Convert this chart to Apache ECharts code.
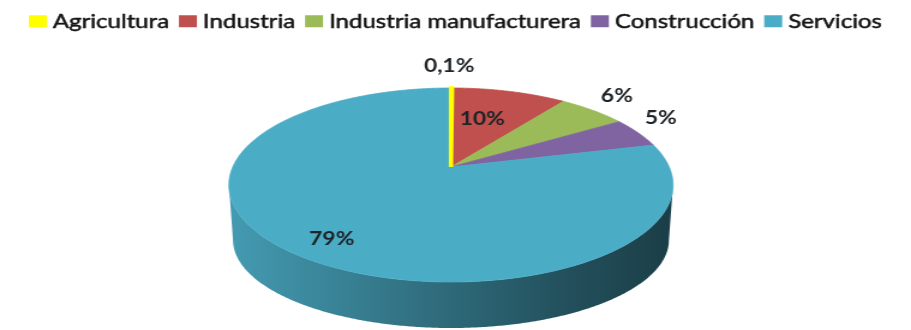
<!DOCTYPE html>
<html>
<head>
<meta charset="utf-8">
<title>Distribución por sector</title>
<script src="https://cdn.jsdelivr.net/npm/echarts@6/dist/echarts.min.js"></script>
<style>
  html, body { margin: 0; padding: 0; background: #ffffff; overflow: hidden; }
  /* the chart is laid out on a narrower canvas and widened horizontally */
  #chart { width: 759px; height: 330px; transform: scaleX(1.2003); transform-origin: 0 0; }
</style>
</head>
<body>
<div id="chart"></div>
<script>
// Sectors and their share of the total (%)
const sectors = ['Agricultura', 'Industria', 'Industria manufacturera', 'Construcción', 'Servicios'];
const shares = [0.1, 10, 6, 5, 79];

// Slice colours
const palette = ['#ffff00', '#c0504d', '#9bbb59', '#8064a2', '#4bacc6'];

// Projected disc: ellipse of the top face and of the bottom rim (canvas px),
// v = perspective shift of the centre towards the far edge
const TOP = { cx: 375.7, cy: 185, rx: 185, ry: 97, v: -0.186 };
const BOTTOM = { cx: 375.7, cy: 240, rx: 181.6, ry: 88, v: -0.186 };

// Label placement: radius on the disc (1 = rim) plus a small pixel nudge
const labelPlace = [
  { r: 1.0, dx: -2, dy: -22 },
  { r: 0.58, dx: -4, dy: -1 },
  { r: 1.0, dx: 20, dy: -15 },
  { r: 1.0, dx: 19, dy: -15 },
  { r: 0.8, dx: 2, dy: 5 }
];

const DEG = Math.PI / 180;

// point at radius r (0..1) and angle a (degrees, clockwise from 12 o'clock)
function project(E, r, a) {
  const x0 = r * Math.sin(a * DEG);
  const y0 = -r * Math.cos(a * DEG);
  const k = Math.sqrt(1 - E.v * E.v);
  const d = 1 + E.v * y0;
  return [E.cx + (x0 * k / d) * E.rx, E.cy + ((y0 + E.v) / d) * E.ry];
}

// angles where the rim reaches its right-most and left-most point
function sideRange(E) {
  let aMax = 0, aMin = 0, xMax = -Infinity, xMin = Infinity;
  for (let a = 0; a < 360; a += 0.1) {
    const x = project(E, 1, a)[0];
    if (x > xMax) { xMax = x; aMax = a; }
    if (x < xMin) { xMin = x; aMin = a; }
  }
  return [aMax, aMin];
}
const FRONT = sideRange(TOP);

const total = shares.reduce((s, v) => s + v, 0);
function sliceAngles(i) {
  let before = 0;
  for (let j = 0; j < i; j++) before += shares[j];
  return [before / total * 360, (before + shares[i]) / total * 360];
}

function arc(E, a0, a1) {
  const pts = [];
  const n = Math.max(2, Math.ceil((a1 - a0) / 0.5));
  for (let s = 0; s <= n; s++) pts.push(project(E, 1, a0 + (a1 - a0) * s / n));
  return pts;
}

function shade(hex, f) {
  const c = echarts.color.parse(hex);
  return 'rgb(' + Math.round(c[0] * f) + ',' + Math.round(c[1] * f) + ',' + Math.round(c[2] * f) + ')';
}

function fmt(v) {
  return v.toLocaleString('es-ES', { maximumFractionDigits: 1 }) + '%';
}

function renderSlice(params, api) {
  const i = params.seriesIndex;
  const value = api.value(0);
  const [a0, a1] = sliceAngles(i);
  const col = palette[i];
  const thin = value < 1;
  const children = [];

  // outer wall of the part of the slice that faces the viewer
  const s0 = Math.max(a0, FRONT[0]);
  const s1 = Math.min(a1, FRONT[1]);
  if (s1 > s0) {
    const topEdge = arc(TOP, s0, s1);
    const bottomEdge = arc(BOTTOM, s0, s1).reverse();
    children.push({
      type: 'polygon',
      z2: 1,
      shape: { points: topEdge.concat(bottomEdge) },
      style: {
        fill: {
          type: 'linear', x: 0, y: 0, x2: 1, y2: 0,
          colorStops: [
            { offset: 0, color: shade(col, 0.9) },
            { offset: 0.5, color: shade(col, 0.61) },
            { offset: 0.75, color: shade(col, 0.47) },
            { offset: 1, color: shade(col, 0.36) }
          ]
        },
        stroke: null
      }
    });
  }

  // top face of the slice; very thin slices are drawn over their neighbours
  const face = [project(TOP, 0, a0)].concat(arc(TOP, a0, a1));
  children.push({
    type: 'polygon',
    z2: thin ? 5 : 2,
    shape: { points: face },
    style: {
      fill: col,
      stroke: col,
      lineWidth: thin ? 3.6 : 0.8,
      lineJoin: 'miter'
    }
  });

  // value label
  const mid = (a0 + a1) / 2;
  const lp = labelPlace[i];
  const p = project(TOP, lp.r, mid);
  children.push({
    type: 'text',
    z2: 10,
    style: {
      text: fmt(value),
      x: p[0] + lp.dx,
      y: p[1] + lp.dy,
      align: 'center',
      verticalAlign: 'middle',
      fontFamily: 'Lato',
      fontWeight: 'bold',
      fontSize: 19,
      fill: '#1e2327'
    }
  });

  return { type: 'group', children: children };
}

const chart = echarts.init(document.getElementById('chart'), null, { renderer: 'canvas' });

chart.setOption({
  animation: false,
  color: palette,
  legend: {
    data: sectors,
    top: 6,
    left: 'center',
    icon: 'rect',
    itemWidth: 15,
    itemHeight: 12,
    itemGap: 8,
    selectedMode: false,
    textStyle: {
      fontFamily: 'Lato',
      fontSize: 20,
      color: '#141414',
      textBorderColor: '#141414',
      textBorderWidth: 0.5
    }
  },
  series: sectors.map((name, i) => ({
    type: 'custom',
    name: name,
    coordinateSystem: 'none',
    itemStyle: { color: palette[i] },
    renderItem: renderSlice,
    data: [[shares[i]]]
  }))
});
</script>
</body>
</html>
